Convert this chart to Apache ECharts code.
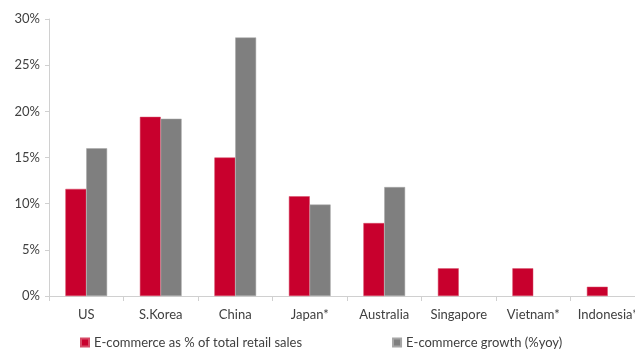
<!DOCTYPE html>
<html>
<head>
<meta charset="utf-8">
<script src="https://cdn.jsdelivr.net/npm/echarts@6/dist/echarts.min.js"></script>
<style>html,body{margin:0;padding:0;background:#fff;overflow:hidden;width:635px;height:351px;}#c{width:650px;height:351px;}</style>
</head>
<body>
<div id="c"></div>
<script>
const categories = ['US', 'S.Korea', 'China', 'Japan*', 'Australia', 'Singapore', 'Vietnam*', 'Indonesia*'];
const shareOfRetail = [11.6, 19.4, 15.0, 10.8, 7.9, 3.0, 3.0, 1.0];
const growthYoy = [16.0, 19.2, 28.0, 9.9, 11.8, null, null, null];
const yTicks = [0, 5, 10, 15, 20, 25, 30];
const seriesNames = ['E-commerce as % of total retail sales', 'E-commerce growth (%yoy)'];

const chart = echarts.init(document.getElementById('c'), null, {renderer: 'canvas'});
const font = 'Lato, "Liberation Sans", sans-serif';
chart.setOption({
  animation: false,
  textStyle: {fontFamily: font},
  grid: {left: 49, right: 5, top: 19, height: 277, containLabel: false},
  legend: {
    top: 331, left: 75,
    itemWidth: 8, itemHeight: 8, itemGap: 90,
    icon: 'rect',
    textStyle: {fontFamily: font, fontSize: 13, color: '#404040'},
    data: seriesNames
  },
  xAxis: {
    type: 'category', data: categories,
    axisLine: {lineStyle: {color: '#d0d0d0'}},
    axisTick: {show: true, length: 5, alignWithLabel: false, lineStyle: {color: '#d0d0d0'}},
    axisLabel: {fontFamily: font, fontSize: 13, color: '#404040', margin: 12, interval: 0}
  },
  yAxis: {
    type: 'value', min: yTicks[0], max: yTicks[yTicks.length - 1], interval: 5,
    axisLine: {show: true, lineStyle: {color: '#d0d0d0'}},
    axisTick: {show: true, length: 4, lineStyle: {color: '#d0d0d0'}},
    splitLine: {show: false},
    axisLabel: {fontFamily: font, fontSize: 13, color: '#404040', margin: 9, formatter: '{value}%'}
  },
  series: [
    {name: seriesNames[0], type: 'bar', data: shareOfRetail, barGap: '0%', barCategoryGap: '44%',
     itemStyle: {color: '#C8002D', borderColor: '#d64a66', borderWidth: 0.5}},
    {name: seriesNames[1], type: 'bar', data: growthYoy,
     itemStyle: {color: '#7F7F7F', borderColor: '#a6a6a6', borderWidth: 0.5}}
  ]
});
</script>
</body>
</html>
